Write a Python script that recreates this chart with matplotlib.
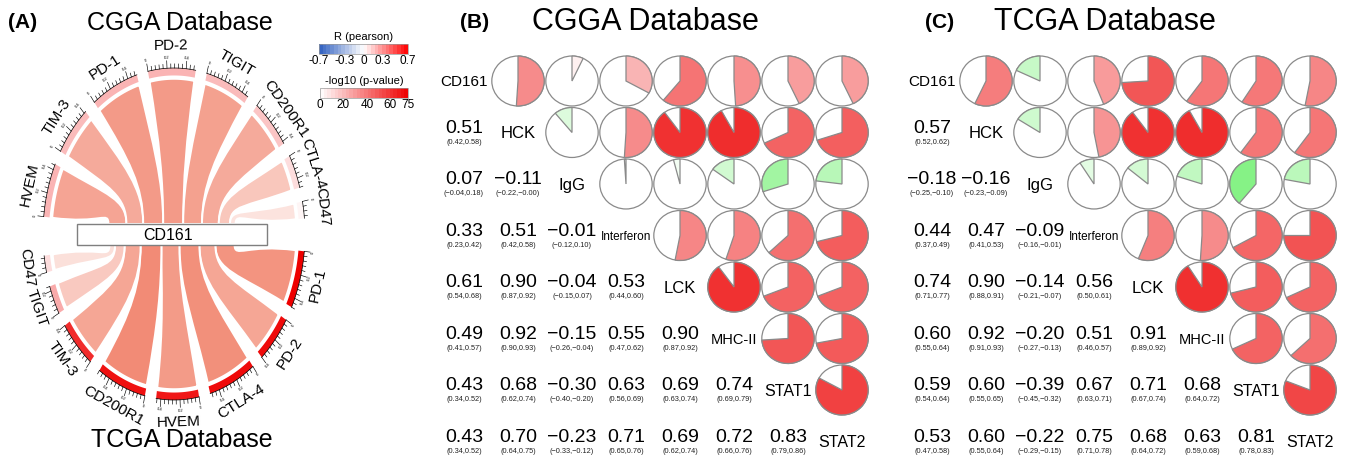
import numpy as np
import matplotlib
matplotlib.use("Agg")
import matplotlib.pyplot as plt
from matplotlib.colors import LinearSegmentedColormap, Normalize
from matplotlib.cm import ScalarMappable
from matplotlib.patches import Polygon, Rectangle, Wedge, Circle, PathPatch
from matplotlib.path import Path

plt.rcParams["font.family"] = ["Liberation Sans", "DejaVu Sans"]

# ---- panel A: CD161 vs checkpoint genes (chord layout) ----
CGGA_GENES = ["HVEM", "TIM-3", "PD-1", "PD-2", "TIGIT", "CD200R1", "CTLA-4", "CD47"]
CGGA_R = [0.45, 0.42, 0.50, 0.50, 0.47, 0.42, 0.28, 0.14]
CGGA_LOGP = [22, 20, 22, 22, 20, 17, 10, 3]

TCGA_GENES = ["PD-1", "PD-2", "CTLA-4", "HVEM", "CD200R1", "TIM-3", "TIGIT", "CD47"]
TCGA_R = [0.48, 0.40, 0.50, 0.45, 0.52, 0.40, 0.24, 0.14]
TCGA_LOGP = [75, 72, 72, 68, 70, 62, 25, 10]

# ---- panels B/C: correlation matrices (lower triangle) ----
VARS = ["CD161", "HCK", "IgG", "Interferon", "LCK", "MHC-II", "STAT1", "STAT2"]

CGGA_LOWER = [
    [],
    [0.51],
    [0.07, -0.11],
    [0.33, 0.51, -0.01],
    [0.61, 0.90, -0.04, 0.53],
    [0.49, 0.92, -0.15, 0.55, 0.90],
    [0.43, 0.68, -0.30, 0.63, 0.69, 0.74],
    [0.43, 0.70, -0.23, 0.71, 0.69, 0.72, 0.83],
]
CGGA_CI = [
    [],
    [(0.42, 0.58)],
    [(-0.04, 0.18), (-0.22, -0.0)],
    [(0.23, 0.42), (0.42, 0.58), (-0.12, 0.10)],
    [(0.54, 0.68), (0.87, 0.92), (-0.15, 0.07), (0.44, 0.60)],
    [(0.41, 0.57), (0.90, 0.93), (-0.26, -0.04), (0.47, 0.62), (0.87, 0.92)],
    [(0.34, 0.52), (0.62, 0.74), (-0.40, -0.20), (0.56, 0.69), (0.63, 0.74), (0.69, 0.79)],
    [(0.34, 0.52), (0.64, 0.75), (-0.33, -0.12), (0.65, 0.76), (0.62, 0.74), (0.66, 0.76),
     (0.79, 0.86)],
]

TCGA_LOWER = [
    [],
    [0.57],
    [-0.18, -0.16],
    [0.44, 0.47, -0.09],
    [0.74, 0.90, -0.14, 0.56],
    [0.60, 0.92, -0.20, 0.51, 0.91],
    [0.59, 0.60, -0.39, 0.67, 0.71, 0.68],
    [0.53, 0.60, -0.22, 0.75, 0.68, 0.63, 0.81],
]
TCGA_CI = [
    [],
    [(0.52, 0.62)],
    [(-0.25, -0.10), (-0.23, -0.09)],
    [(0.37, 0.49), (0.41, 0.53), (-0.16, -0.01)],
    [(0.71, 0.77), (0.88, 0.91), (-0.21, -0.07), (0.50, 0.61)],
    [(0.55, 0.64), (0.91, 0.93), (-0.27, -0.13), (0.46, 0.57), (0.89, 0.92)],
    [(0.54, 0.64), (0.55, 0.65), (-0.45, -0.32), (0.63, 0.71), (0.67, 0.74), (0.64, 0.72)],
    [(0.47, 0.58), (0.55, 0.64), (-0.29, -0.15), (0.71, 0.78), (0.64, 0.72), (0.59, 0.68),
     (0.78, 0.83)],
]

W, H = 1354, 458

R_CMAP = LinearSegmentedColormap.from_list("r", ["#2f5fc0", "#ffffff", "#ff0000"])
P_CMAP = LinearSegmentedColormap.from_list("p", ["#ffffff", "#ee0000"])
LINK_CMAP = LinearSegmentedColormap.from_list("link", ["#ffffff", "#ec5a3c"])
POS_CMAP = LinearSegmentedColormap.from_list("pos", ["#ffffff", "#ee1b1b"])
NEG_CMAP = LinearSegmentedColormap.from_list("neg", ["#ffffff", "#64ee64"])

fig = plt.figure(figsize=(W / 100, H / 100), dpi=100)
ax = fig.add_axes([0, 0, 1, 1])
ax.set_xlim(0, W)
ax.set_ylim(H, 0)
ax.axis("off")

# geometry of the circle (pixels)
CX, CY = 174, 234
A_RAD, B_RAD = 131, 166
UNIT = 42.0      # degrees per unit of r
GAP = 5.0
R_LINK = 0.935
R_RING = 0.955
BOX = (77, 224, 190, 21)
ATTACH_PX = 40.0


def ell(theta, r):
    t = np.radians(theta)
    return np.array([CX + A_RAD * r * np.cos(t), CY - B_RAD * r * np.sin(t)])


def tangent_rot(theta, top):
    t = np.radians(theta)
    if top:
        dx, dy = A_RAD * np.sin(t), -B_RAD * np.cos(t)
    else:
        dx, dy = -A_RAD * np.sin(t), B_RAD * np.cos(t)
    return np.degrees(np.arctan2(dy, dx))


def layout(values, start):
    spans, t = [], start
    for v in values:
        spans.append((t, t - v * UNIT))
        t = t - v * UNIT - GAP
    return spans


def attach(values):
    xs = np.concatenate([[0], np.cumsum(values)]) * ATTACH_PX
    xs = xs - xs[-1] / 2 + (BOX[0] + BOX[2] / 2)
    return list(zip(xs[:-1], xs[1:]))


def ribbon(t0, t1, x_t0, x_t1, yb, sign, color):
    ctr = np.array([CX, CY])
    p0, p1 = ell(t0, R_LINK), ell(t1, R_LINK)
    q0, q1 = np.array([x_t0, yb]), np.array([x_t1, yb])

    def ctrl(p, q, t):
        d = 10 + 35 * abs(np.sin(np.radians(t)))
        return p + (ctr - p) * 0.4, q + np.array([0, sign * d])

    c0a, c0b = ctrl(p0, q0, t0)
    c1a, c1b = ctrl(p1, q1, t1)
    arc = [ell(t, R_LINK) for t in np.linspace(t1, t0, 40)[1:]]
    verts = [p0, c0a, c0b, q0, q1, c1b, c1a, p1] + arc + [p0]
    codes = ([Path.MOVETO] + [Path.CURVE4] * 3 + [Path.LINETO] + [Path.CURVE4] * 3
             + [Path.LINETO] * len(arc) + [Path.CLOSEPOLY])
    ax.add_patch(PathPatch(Path(verts, codes), facecolor=color, edgecolor="white",
                           lw=1.4, zorder=2))


def sector(t0, t1, value, logp, name, top):
    ts = np.linspace(t0, t1, 40)
    ring = [ell(t, 1.0) for t in ts] + [ell(t, R_RING) for t in ts[::-1]]
    ax.add_patch(Polygon(ring, closed=True, facecolor=P_CMAP(logp / 75),
                         edgecolor="none", zorder=3))
    line = np.array([ell(t, 1.0) for t in ts])
    ax.plot(line[:, 0], line[:, 1], color="black", lw=0.5, zorder=4)
    n = int(value / 0.04 + 1e-6)
    for k in range(n + 1):
        val = k * 0.04
        t = t0 - val * UNIT
        major = k % 5 == 0
        a, b = ell(t, 1.0), ell(t, 1.045 if major else 1.025)
        ax.plot([a[0], b[0]], [a[1], b[1]], color="black", lw=0.45, zorder=4)
        if major:
            p = ell(t, 1.052)
            ax.text(p[0], p[1], f"{round(val, 1):g}", fontsize=3, ha="center",
                    va="bottom" if top else "top", rotation=tangent_rot(t, top),
                    rotation_mode="anchor", zorder=4)
    tm = (t0 + t1) / 2
    p = ell(tm, 1.09)
    ax.text(p[0], p[1], name, fontsize=11, ha="center", va="bottom" if top else "top",
            rotation=tangent_rot(tm, top), rotation_mode="anchor", zorder=4)


top_spans = layout(CGGA_R, 174)
bot_spans = layout(TCGA_R, 354)
top_att = attach(CGGA_R)
bot_att = attach(TCGA_R[::-1])[::-1]

for (t0, t1), (xa, xb), r in zip(top_spans, top_att, CGGA_R):
    ribbon(t0, t1, xa, xb, BOX[1], -1, LINK_CMAP(r / 0.82))
for (t0, t1), (xa, xb), r in zip(bot_spans, bot_att, TCGA_R):
    ribbon(t0, t1, xb, xa, BOX[1] + BOX[3], 1, LINK_CMAP(r / 0.74))

for (t0, t1), r, lp, g in zip(top_spans, CGGA_R, CGGA_LOGP, CGGA_GENES):
    sector(t0, t1, r, lp, g, True)
for (t0, t1), r, lp, g in zip(bot_spans, TCGA_R, TCGA_LOGP, TCGA_GENES):
    sector(t0, t1, r, lp, g, False)

ax.add_patch(Rectangle(BOX[:2], BOX[2], BOX[3], facecolor="white", edgecolor="#7f7f7f",
                       lw=1.0, zorder=5))
ax.text(BOX[0] + BOX[2] / 2 - 4, BOX[1] + BOX[3] / 2 + 0.5, "CD161", fontsize=11.5,
        ha="center", va="center", zorder=6)

ax.text(23, 23, "(A)", fontsize=15, fontweight="bold", ha="center", va="center")
ax.text(180, 23, "CGGA Database", fontsize=18, ha="center", va="center")
ax.text(182, 440, "TCGA Database", fontsize=18, ha="center", va="center")

# colour legends
ax.text(364, 37, "R (pearson)", fontsize=8, ha="center", va="center")
ax.text(364, 81, "-log10 (p-value)", fontsize=8, ha="center", va="center")
cax1 = fig.add_axes([319 / W, 1 - 54 / H, 89 / W, 10 / H])
cb1 = fig.colorbar(ScalarMappable(Normalize(-0.7, 0.7), R_CMAP), cax=cax1,
                   orientation="horizontal", ticks=[-0.7, -0.3, 0, 0.3, 0.7],
                   boundaries=np.linspace(-0.7, 0.7, 25))
cb1.ax.set_xticklabels(["-0.7", "-0.3", "0", "0.3", "0.7"])
cax2 = fig.add_axes([320 / W, 1 - 98 / H, 88 / W, 10 / H])
cb2 = fig.colorbar(ScalarMappable(Normalize(0, 75), P_CMAP), cax=cax2,
                   orientation="horizontal", ticks=[0, 20, 40, 60, 75],
                   boundaries=np.linspace(0, 75, 25))
for cb in (cb1, cb2):
    cb.ax.tick_params(length=0, labelsize=8.5, pad=0.5)
    cb.outline.set_linewidth(0.5)
    cb.outline.set_edgecolor("#999999")

# ---- panels B and C ----
CELL_W, CELL_H = 54.0, 51.5
DIAG_SIZE = [11, 12, 12, 8.5, 12, 10.5, 11.5, 11.5]


def fmt(v):
    return f"{v:.2f}".replace("-", "\u2212")


def corrgram(x0, y0, lower, ci):
    left, right = x0 - 0.5 * CELL_W, x0 + 7.5 * CELL_W
    top, bottom = y0 - 0.55 * CELL_H, y0 + 7.35 * CELL_H
    a = fig.add_axes([left / W, 1 - bottom / H, (right - left) / W, (bottom - top) / H])
    a.set_xlim(-0.5, 7.5)
    a.set_ylim(7.35, -0.55)
    a.axis("off")
    a.patch.set_alpha(0)
    n = len(VARS)
    for i in range(n):
        a.text(i, i + 0.02, VARS[i], fontsize=DIAG_SIZE[i], ha="center", va="center")
        for j in range(i):
            a.text(j, i - 0.08, fmt(lower[i][j]), fontsize=14, ha="center", va="center")
            lo, hi = ci[i][j]
            a.text(j, i + 0.19, f"({fmt(lo)},{fmt(hi)})", fontsize=5.3, ha="center",
                   va="center", color="#222222")
        for j in range(i + 1, n):
            r = lower[j][i]
            a.add_patch(Circle((j, i), 0.485, facecolor="white", edgecolor="#8a8a8a",
                               lw=0.9))
            if r >= 0:
                w = Wedge((j, i), 0.485, 270, 270 + 360 * r, facecolor=POS_CMAP(r),
                          edgecolor="#8a8a8a", lw=0.9)
            else:
                w = Wedge((j, i), 0.485, 270 + 360 * r, 270,
                          facecolor=NEG_CMAP(min(-r / 0.5, 1)), edgecolor="#8a8a8a", lw=0.9)
            a.add_patch(w)


corrgram(464, 81, CGGA_LOWER, CGGA_CI)
corrgram(932, 81, TCGA_LOWER, TCGA_CI)

ax.text(475, 23, "(B)", fontsize=15, fontweight="bold", ha="center", va="center")
ax.text(645, 22, "CGGA Database", fontsize=22, ha="center", va="center")
ax.text(940, 23, "(C)", fontsize=15, fontweight="bold", ha="center", va="center")
ax.text(1105, 22, "TCGA Database", fontsize=22, ha="center", va="center")

fig.savefig("out.png", dpi=100)
